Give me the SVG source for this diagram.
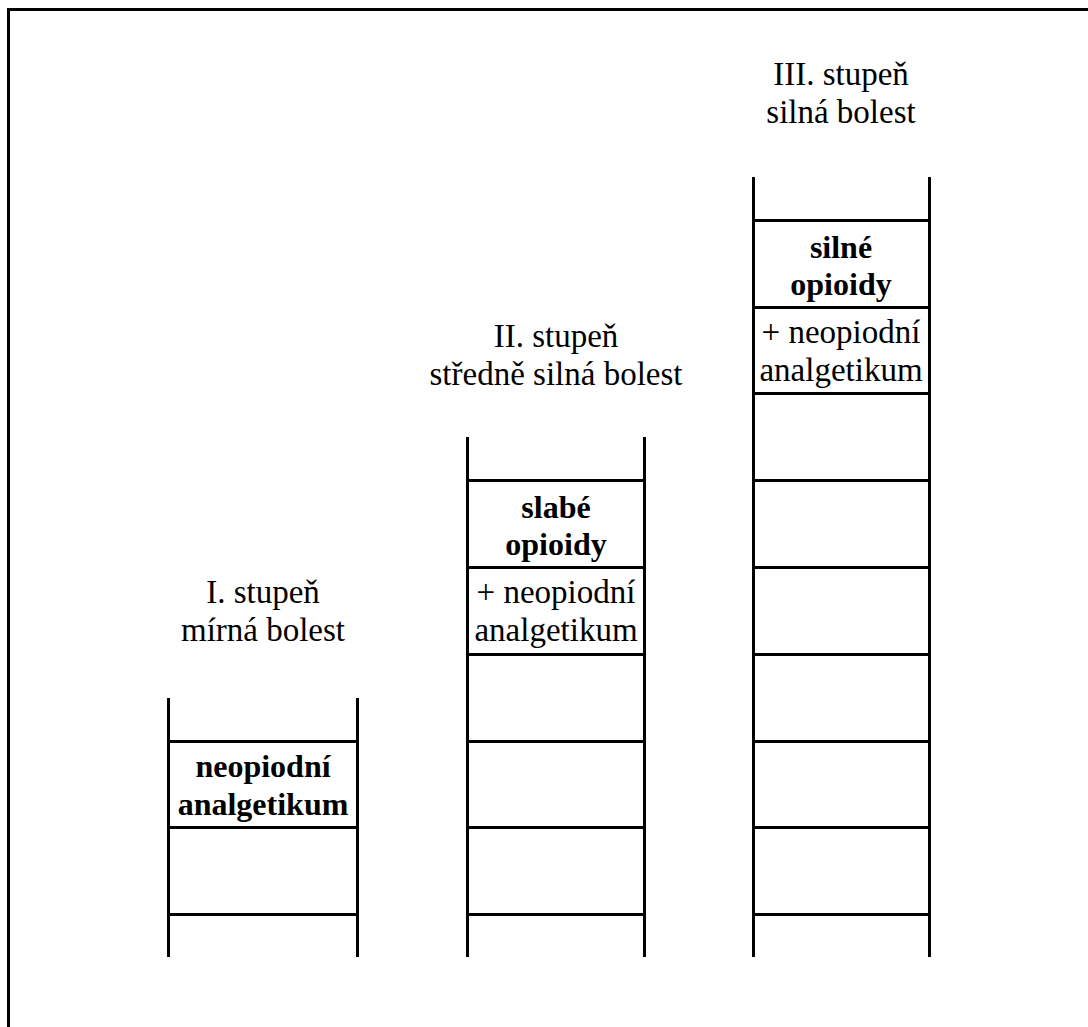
<svg xmlns="http://www.w3.org/2000/svg" width="1088" height="1027" viewBox="0 0 1088 1027">
<style>
.ln{stroke:#000;stroke-width:3;fill:none}
.t{font-family:"Liberation Serif","Times New Roman",serif;font-size:33px;fill:#000;text-anchor:middle}
.b{font-family:"Liberation Serif","Times New Roman",serif;font-size:32px;font-weight:bold;fill:#000;text-anchor:middle}
</style>
<rect width="1088" height="1027" fill="#fff"/>
<path class="ln" d="M8.5,1027 V9.5 H1088"/>
<g id="step1">
<text class="t" x="263" y="603">I. stupeň</text>
<text class="t" x="263" y="641">mírná bolest</text>
<path class="ln" d="M168.5,698 V957 M357.5,698 V957 M168.5,741.5 H357.5 M168.5,827.5 H357.5 M168.5,914.5 H357.5"/>
<text class="b" x="263" y="777">neopiodní</text>
<text class="b" x="263" y="815">analgetikum</text>
</g>
<g id="step2">
<text class="t" x="556" y="347">II. stupeň</text>
<text class="t" x="556" y="385">středně silná bolest</text>
<path class="ln" d="M467.5,437 V957 M644.5,437 V957 M467.5,480.5 H644.5 M467.5,567.5 H644.5 M467.5,654.5 H644.5 M467.5,741.5 H644.5 M467.5,827.5 H644.5 M467.5,914.5 H644.5"/>
<text class="b" x="556" y="518">slabé</text>
<text class="b" x="556" y="555">opioidy</text>
<text class="t" x="556" y="603">+ neopiodní</text>
<text class="t" x="556" y="641">analgetikum</text>
</g>
<g id="step3">
<text class="t" x="841" y="85">III. stupeň</text>
<text class="t" x="841" y="123">silná bolest</text>
<path class="ln" d="M753.5,177 V957 M929.5,177 V957 M753.5,220.5 H929.5 M753.5,307.5 H929.5 M753.5,393.5 H929.5 M753.5,480.5 H929.5 M753.5,567.5 H929.5 M753.5,654.5 H929.5 M753.5,741.5 H929.5 M753.5,827.5 H929.5 M753.5,914.5 H929.5"/>
<text class="b" x="841" y="258">silné</text>
<text class="b" x="841" y="295">opioidy</text>
<text class="t" x="841" y="343">+ neopiodní</text>
<text class="t" x="841" y="381">analgetikum</text>
</g>
<g id="connectors"/>
</svg>
